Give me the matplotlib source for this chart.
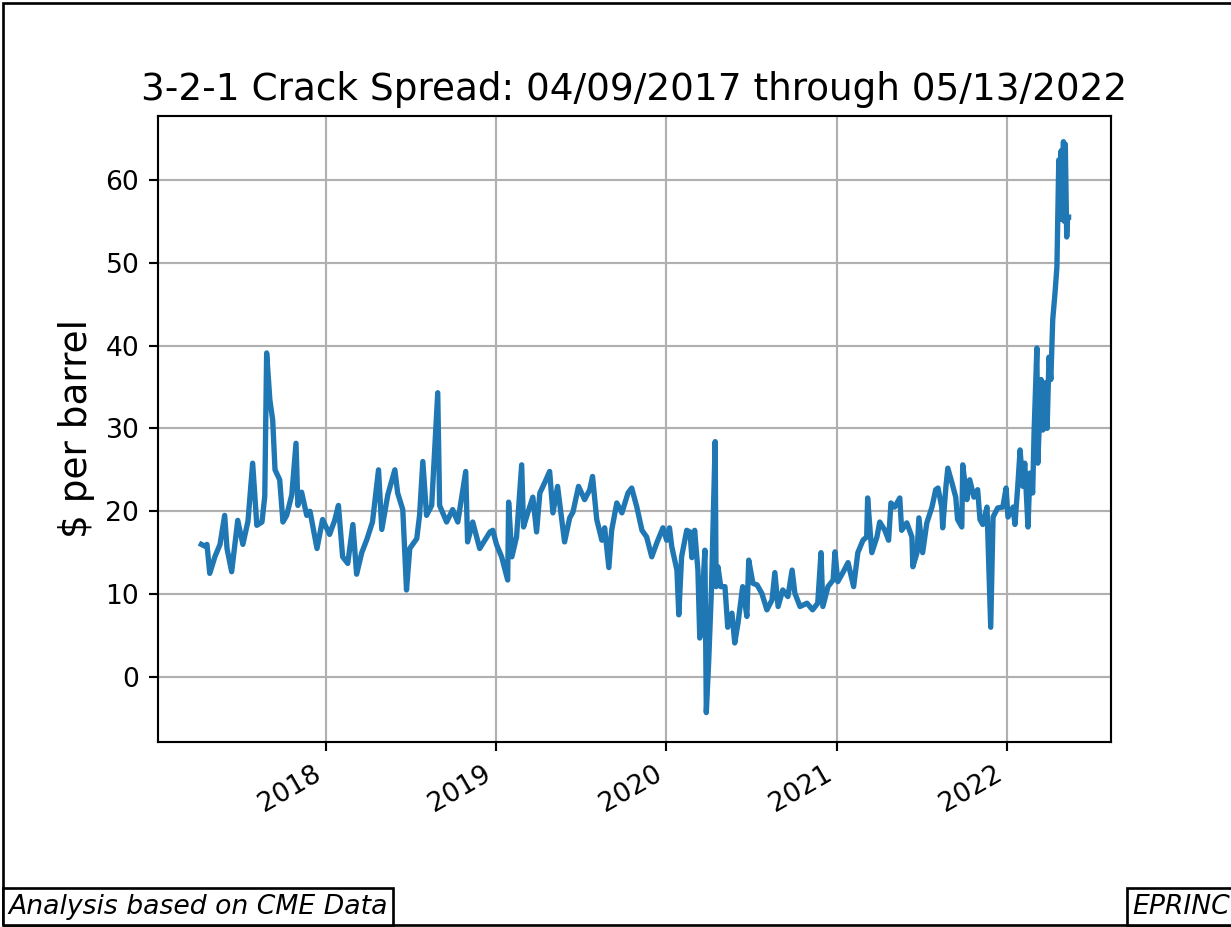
import matplotlib
matplotlib.use("Agg")
import matplotlib.pyplot as plt
import matplotlib.dates as mdates
from matplotlib.patches import Rectangle
import pandas as pd

title = "3-2-1 Crack Spread: 04/09/2017 through 05/13/2022"
ylabel = "$ per barrel"
note_left = "Analysis based on CME Data"
note_right = "EPRINC"

dates_2017 = ["2017-04-09", "2017-04-16", "2017-04-21", "2017-04-27", "2017-05-08", "2017-05-19",
              "2017-05-29", "2017-06-03", "2017-06-13", "2017-06-26", "2017-07-07", "2017-07-18",
              "2017-07-28", "2017-08-06", "2017-08-17", "2017-08-23", "2017-08-27", "2017-09-03",
              "2017-09-09", "2017-09-14", "2017-09-24", "2017-10-01", "2017-10-09", "2017-10-20",
              "2017-10-29", "2017-11-02", "2017-11-10", "2017-11-21", "2017-11-28", "2017-12-13",
              "2017-12-25"]
values_2017 = [16.0, 15.8, 16.0, 12.5, 14.5, 16.0,
               19.5, 15.5, 12.7, 18.9, 16.0, 18.8,
               25.8, 18.3, 18.7, 21.8, 39.1, 33.4,
               31.0, 25.0, 23.8, 18.7, 19.5, 22.0,
               28.2, 20.7, 22.3, 19.5, 20.0, 15.5,
               19.0]

dates_2018 = ["2018-01-09", "2018-01-20", "2018-01-28", "2018-02-06", "2018-02-17", "2018-02-28",
              "2018-03-08", "2018-03-19", "2018-03-30", "2018-04-11", "2018-04-24", "2018-05-01",
              "2018-05-14", "2018-05-29", "2018-06-04", "2018-06-15", "2018-06-23", "2018-06-30",
              "2018-07-15", "2018-07-21", "2018-07-28", "2018-08-05", "2018-08-16", "2018-08-29",
              "2018-09-02", "2018-09-17", "2018-09-30", "2018-10-11", "2018-10-28", "2018-11-01",
              "2018-11-12", "2018-11-27", "2018-12-19", "2018-12-25"]
values_2018 = [17.2, 18.9, 20.7, 14.5, 13.7, 18.4,
               12.4, 15.0, 16.6, 18.7, 25.0, 17.8,
               22.0, 25.0, 22.2, 20.2, 10.5, 15.5,
               16.7, 19.5, 26.0, 19.5, 20.7, 34.3,
               20.7, 18.7, 20.2, 18.7, 24.8, 16.3,
               18.7, 15.5, 17.5, 17.7]

dates_2019 = ["2019-01-02", "2019-01-13", "2019-01-26", "2019-01-28", "2019-02-04", "2019-02-14",
              "2019-02-25", "2019-03-01", "2019-03-10", "2019-03-21", "2019-03-29", "2019-04-05",
              "2019-04-15", "2019-04-26", "2019-05-03", "2019-05-13", "2019-05-28", "2019-06-08",
              "2019-06-15", "2019-06-27", "2019-07-10", "2019-07-21", "2019-07-27", "2019-08-05",
              "2019-08-16", "2019-08-22", "2019-08-31", "2019-09-06", "2019-09-17", "2019-09-28",
              "2019-10-11", "2019-10-19", "2019-10-30", "2019-11-10", "2019-11-20", "2019-12-01",
              "2019-12-12", "2019-12-25"]
values_2019 = [16.0, 14.5, 11.7, 21.1, 14.5, 16.9,
               25.6, 18.1, 19.8, 21.7, 17.5, 22.2,
               23.4, 24.8, 19.8, 23.0, 16.3, 19.2,
               19.9, 23.0, 21.4, 22.6, 24.2, 19.0,
               16.5, 18.0, 13.2, 17.7, 21.0, 19.8,
               22.2, 22.8, 20.5, 17.7, 16.9, 14.5,
               16.2, 18.0]

dates_2020 = ["2020-01-02", "2020-01-08", "2020-01-13", "2020-01-24", "2020-01-28", "2020-02-03",
              "2020-02-14", "2020-02-21", "2020-02-25", "2020-03-02", "2020-03-09", "2020-03-13",
              "2020-03-17", "2020-03-24", "2020-03-27", "2020-04-01", "2020-04-07", "2020-04-15",
              "2020-04-17", "2020-04-21", "2020-04-27", "2020-05-06", "2020-05-12", "2020-05-21",
              "2020-05-27", "2020-06-03", "2020-06-13", "2020-06-22", "2020-06-26", "2020-07-05",
              "2020-07-14", "2020-07-24", "2020-08-04", "2020-08-15", "2020-08-21", "2020-08-28",
              "2020-09-07", "2020-09-18", "2020-09-27", "2020-10-03", "2020-10-14", "2020-10-29",
              "2020-11-10", "2020-11-21", "2020-11-28", "2020-12-02", "2020-12-13", "2020-12-24",
              "2020-12-28"]
values_2020 = [16.5, 18.0, 15.7, 12.9, 7.5, 14.5,
               17.7, 17.5, 14.4, 17.7, 12.9, 4.7,
               8.1, 15.3, -4.3, 1.7, 10.5, 28.4,
               10.9, 13.3, 10.9, 10.9, 6.0, 7.7,
               4.1, 6.5, 10.9, 7.3, 14.1, 11.3,
               11.1, 10.1, 8.1, 9.3, 12.6, 8.5,
               10.5, 9.7, 12.9, 10.1, 8.5, 8.9,
               8.1, 8.9, 15.0, 8.5, 10.9, 11.7,
               15.1]

dates_2021 = ["2021-01-03", "2021-01-14", "2021-01-25", "2021-02-06", "2021-02-15", "2021-02-26",
              "2021-03-06", "2021-03-08", "2021-03-17", "2021-03-28", "2021-04-03", "2021-04-14",
              "2021-04-22", "2021-04-27", "2021-05-05", "2021-05-16", "2021-05-20", "2021-05-31",
              "2021-06-11", "2021-06-13", "2021-06-22", "2021-06-26", "2021-07-04", "2021-07-13",
              "2021-07-24", "2021-08-01", "2021-08-06", "2021-08-14", "2021-08-16", "2021-08-23",
              "2021-08-27", "2021-09-05", "2021-09-13", "2021-09-17", "2021-09-26", "2021-09-28",
              "2021-10-07", "2021-10-13", "2021-10-22", "2021-10-30", "2021-11-04", "2021-11-10",
              "2021-11-19", "2021-11-27", "2021-12-02", "2021-12-12", "2021-12-23", "2021-12-30"]
values_2021 = [11.5, 12.6, 13.8, 10.9, 15.0, 16.5,
               16.9, 21.6, 15.0, 16.9, 18.7, 17.7,
               16.5, 21.0, 20.5, 21.6, 17.7, 18.6,
               16.9, 13.3, 15.0, 19.2, 15.0, 18.6,
               20.5, 22.6, 22.8, 20.5, 18.0, 23.0,
               25.2, 23.4, 21.7, 19.0, 18.1, 25.6,
               21.4, 23.8, 21.7, 22.6, 19.0, 18.4,
               20.5, 6.0, 19.3, 20.4, 20.5, 22.8]

dates_2022 = ["2022-01-03", "2022-01-14", "2022-01-18", "2022-01-24", "2022-01-29", "2022-02-04",
              "2022-02-08", "2022-02-15", "2022-02-19", "2022-02-25", "2022-02-28", "2022-03-06",
              "2022-03-08", "2022-03-15", "2022-03-19", "2022-03-24", "2022-03-28", "2022-04-01",
              "2022-04-05", "2022-04-09", "2022-04-14", "2022-04-18", "2022-04-22", "2022-04-25",
              "2022-04-27", "2022-04-29", "2022-05-02", "2022-05-04", "2022-05-06", "2022-05-09",
              "2022-05-11", "2022-05-13"]
values_2022 = [19.3, 20.5, 18.4, 23.0, 27.4, 23.0,
               25.8, 18.1, 24.6, 22.2, 29.5, 39.7,
               25.8, 35.9, 29.8, 35.5, 30.0, 38.6,
               35.9, 43.1, 46.4, 49.5, 62.4, 56.0,
               63.5, 55.2, 64.6, 55.0, 64.3, 53.1,
               55.5, 55.5]

dates = pd.to_datetime(dates_2017 + dates_2018 + dates_2019 + dates_2020 + dates_2021 + dates_2022)
values = values_2017 + values_2018 + values_2019 + values_2020 + values_2021 + values_2022

W, H, DPI = 1231, 927, 192
fig = plt.figure(figsize=(W / DPI, H / DPI), dpi=DPI)
ax = fig.add_axes([158 / W, 1 - 742 / H, (1111 - 158) / W, (742 - 116) / H])

ax.plot(dates, values, color="#1f77b4", linewidth=2)
ax.grid(True)
ax.set_ylim(-7.85, 67.7)
ax.set_xlim(pd.Timestamp("2017-01-06"), pd.Timestamp("2022-08-12"))
ax.xaxis.set_major_locator(mdates.YearLocator())
ax.xaxis.set_major_formatter(mdates.DateFormatter("%Y"))
for lab in ax.get_xticklabels():
    lab.set_rotation(30)
    lab.set_ha("right")
ax.tick_params(labelsize=10)
ax.set_title(title, fontsize=14)
ax.set_ylabel(ylabel, fontsize=14)

# figure border (extends past right edge, as in the cropped reference)
border = Rectangle((3 / W, 2 / H), 1.01, (925 - 3) / H, transform=fig.transFigure,
                   fill=False, edgecolor="black", linewidth=1.0, clip_on=False)
fig.patches.append(border)

box = dict(boxstyle="square,pad=0.2", facecolor="white", edgecolor="black", linewidth=1.0)
fig.text(8.5 / W, 7.5 / H, note_left, fontsize=10, style="italic", ha="left", va="bottom", bbox=box)
fig.text(1132.5 / W, 7.5 / H, note_right, fontsize=10, style="italic", ha="left", va="bottom", bbox=box)

fig.savefig("out.png", dpi=DPI)
